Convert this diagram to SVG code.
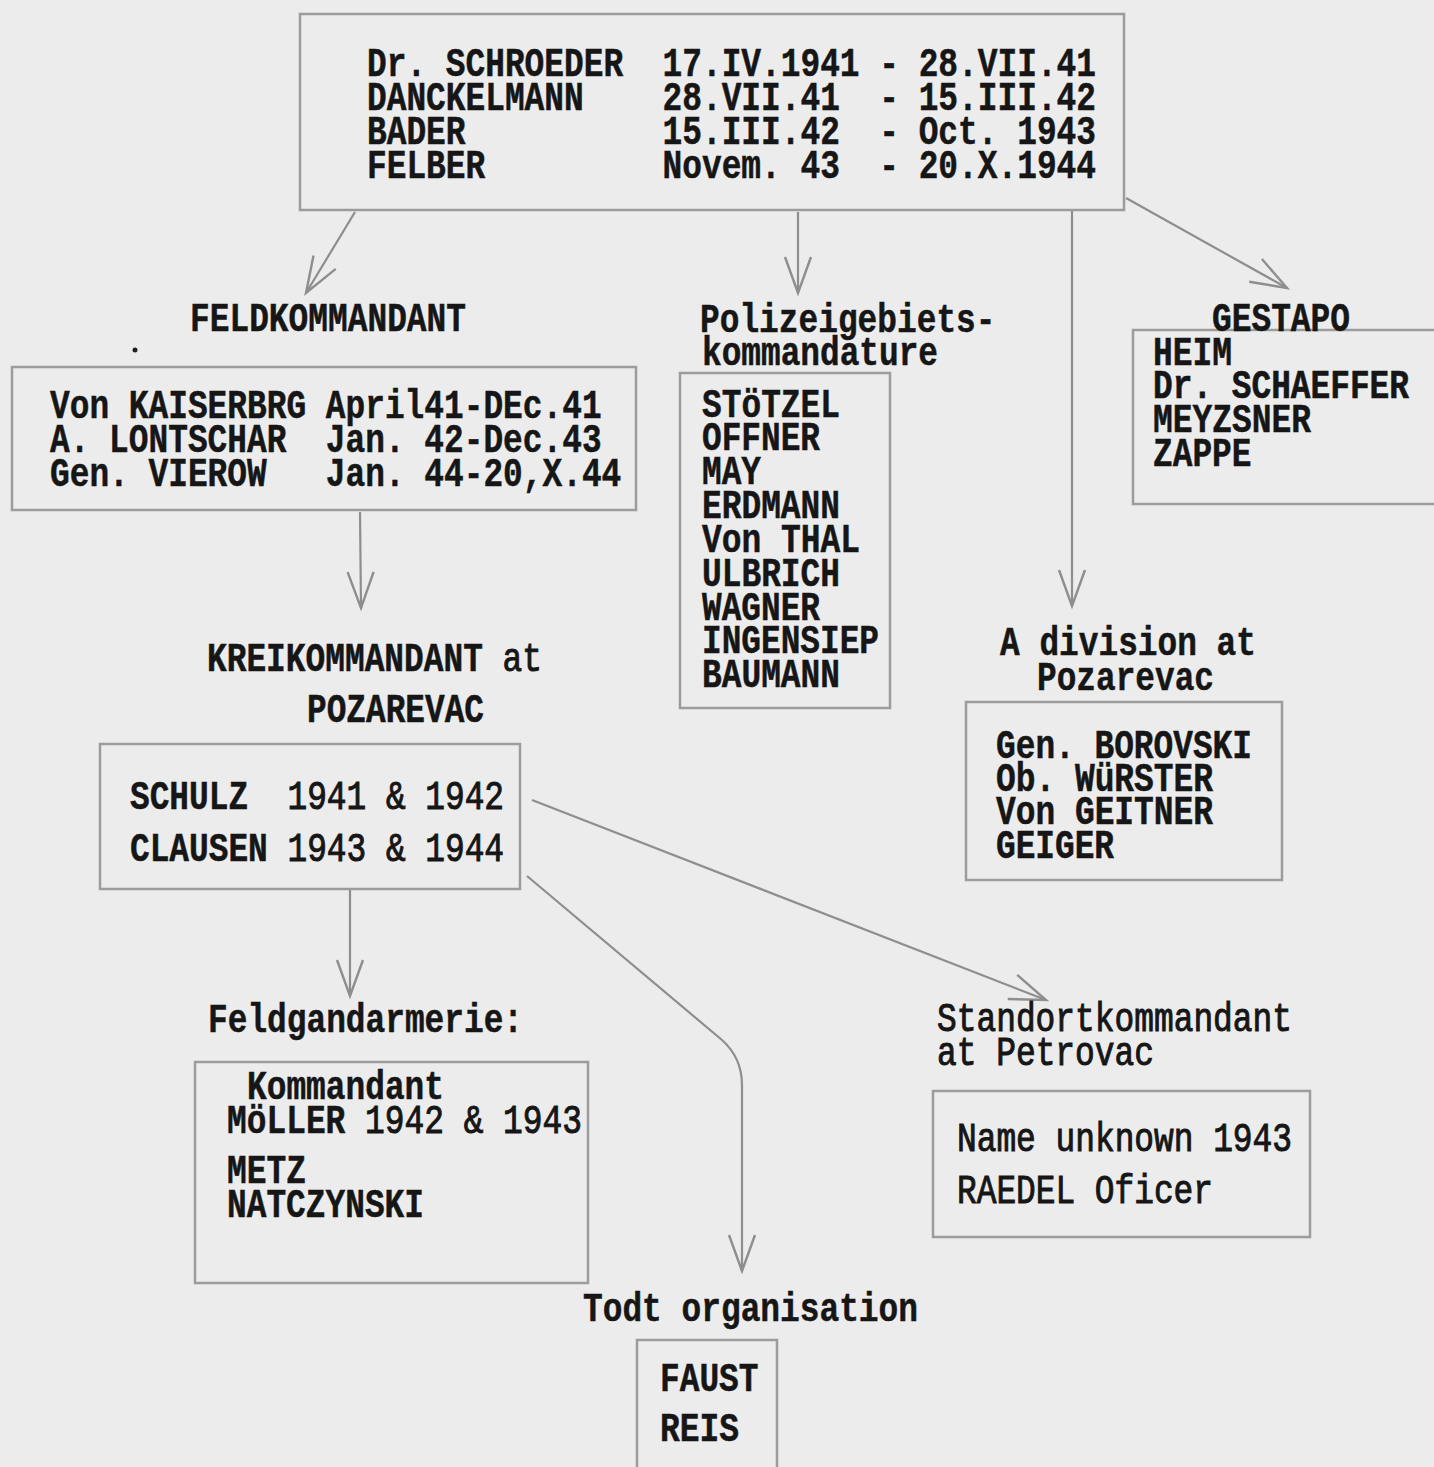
<svg xmlns="http://www.w3.org/2000/svg" width="1434" height="1467" viewBox="0 0 1434 1467" xml:space="preserve">
<style>
text{font-family:"Liberation Mono","DejaVu Sans Mono",monospace;font-size:40px;fill:#161616;font-weight:bold;white-space:pre;stroke:#161616;stroke-width:0.5}
.r{font-weight:normal;stroke-width:1}
.box{fill:none;stroke:#9c9c9c;stroke-width:2.5}
.con{fill:none;stroke:#8e8e8e;stroke-width:2.2}
</style>
<defs>
<marker id="v" markerUnits="userSpaceOnUse" viewBox="-42 -18 46 36" markerWidth="46" markerHeight="36" refX="0" refY="0" orient="auto">
<path d="M-36,-13 L0,0 L-36,13" fill="none" stroke="#8e8e8e" stroke-width="2.4"/>
</marker>
</defs>
<rect width="1434" height="1467" fill="#ececec"/>

<g id="connectors">
<path class="con" d="M355,212 L306,293" marker-end="url(#v)"/>
<path class="con" d="M798,212 L798,293" marker-end="url(#v)"/>
<path class="con" d="M1072,210 L1072,606" marker-end="url(#v)"/>
<path class="con" d="M1126,198 L1287,288" marker-end="url(#v)"/>
<path class="con" d="M360,512 L361,608" marker-end="url(#v)"/>
<path class="con" d="M350,890 L350,996" marker-end="url(#v)"/>
<path class="con" d="M532,800 L1046,1000" marker-end="url(#v)"/>
<path class="con" d="M527,876 L722,1040 Q742,1058 742,1085 L742,1271" marker-end="url(#v)"/>
</g>

<g id="top">
<rect class="box" x="300" y="14" width="824" height="196"/>
<text x="367" y="76" textLength="729" lengthAdjust="spacingAndGlyphs">Dr. SCHROEDER  17.IV.1941 - 28.VII.41</text>
<text x="367" y="110" textLength="729" lengthAdjust="spacingAndGlyphs">DANCKELMANN    28.VII.41  - 15.III.42</text>
<text x="367" y="144" textLength="729" lengthAdjust="spacingAndGlyphs">BADER          15.III.42  - Oct. 1943</text>
<text x="367" y="178" textLength="729" lengthAdjust="spacingAndGlyphs">FELBER         Novem. 43  - 20.X.1944</text>
</g>

<g id="feldkommandant">
<text x="190" y="331" textLength="276" lengthAdjust="spacingAndGlyphs">FELDKOMMANDANT</text>
<circle cx="135" cy="350" r="2.5" fill="#222"/>
<rect class="box" x="12" y="367" width="624" height="143"/>
<text x="50" y="418" textLength="551.6" lengthAdjust="spacingAndGlyphs">Von KAISERBRG April41-DEc.41</text>
<text x="50" y="452" textLength="551.6" lengthAdjust="spacingAndGlyphs">A. LONTSCHAR  Jan. 42-Dec.43</text>
<text x="50" y="486" textLength="571.3" lengthAdjust="spacingAndGlyphs">Gen. VIEROW   Jan. 44-20,X.44</text>
</g>

<g id="polizei">
<text x="700" y="332" textLength="295.5" lengthAdjust="spacingAndGlyphs">Polizeigebiets-</text>
<text x="702" y="365" textLength="236" lengthAdjust="spacingAndGlyphs">kommandature</text>
<rect class="box" x="680" y="373" width="210" height="335"/>
<text x="702" y="417" textLength="138" lengthAdjust="spacingAndGlyphs">STöTZEL</text>
<text x="702" y="450" textLength="118" lengthAdjust="spacingAndGlyphs">OFFNER</text>
<text x="702" y="484" textLength="59" lengthAdjust="spacingAndGlyphs">MAY</text>
<text x="702" y="518" textLength="138" lengthAdjust="spacingAndGlyphs">ERDMANN</text>
<text x="702" y="552" textLength="158" lengthAdjust="spacingAndGlyphs">Von THAL</text>
<text x="702" y="586" textLength="138" lengthAdjust="spacingAndGlyphs">ULBRICH</text>
<text x="702" y="620" textLength="118" lengthAdjust="spacingAndGlyphs">WAGNER</text>
<text x="702" y="653" textLength="177" lengthAdjust="spacingAndGlyphs">INGENSIEP</text>
<text x="702" y="687" textLength="138" lengthAdjust="spacingAndGlyphs">BAUMANN</text>
</g>

<g id="gestapo">
<path class="box" d="M1436,330 H1133 V504 H1436"/>
<text x="1212" y="331" textLength="138" lengthAdjust="spacingAndGlyphs">GESTAPO</text>
<text x="1153" y="365" textLength="79" lengthAdjust="spacingAndGlyphs">HEIM</text>
<text x="1153" y="0" transform="translate(0,398) scale(1,1.21)" style="font-size:33px" textLength="256" lengthAdjust="spacingAndGlyphs">Dr. SCHAEFFER</text>
<text x="1153" y="432" textLength="158" lengthAdjust="spacingAndGlyphs">MEYZSNER</text>
<text x="1153" y="466" textLength="98.5" lengthAdjust="spacingAndGlyphs">ZAPPE</text>
</g>

<g id="kreiskommandant">
<text x="207" y="671" textLength="335" lengthAdjust="spacingAndGlyphs">KREIKOMMANDANT <tspan class="r">at</tspan></text>
<text x="307" y="722" textLength="177" lengthAdjust="spacingAndGlyphs">POZAREVAC</text>
<rect class="box" x="100" y="744" width="420" height="145"/>
<text x="130" y="809" textLength="374" lengthAdjust="spacingAndGlyphs">SCHULZ  <tspan class="r">1941 &amp; 1942</tspan></text>
<text x="130" y="861" textLength="374" lengthAdjust="spacingAndGlyphs">CLAUSEN <tspan class="r">1943 &amp; 1944</tspan></text>
</g>

<g id="division">
<text x="1000" y="655" textLength="256" lengthAdjust="spacingAndGlyphs">A division at</text>
<text x="1037" y="690" textLength="177" lengthAdjust="spacingAndGlyphs">Pozarevac</text>
<rect class="box" x="966" y="702" width="316" height="178"/>
<text x="996" y="758" textLength="256" lengthAdjust="spacingAndGlyphs">Gen. BOROVSKI</text>
<text x="996" y="791" textLength="217" lengthAdjust="spacingAndGlyphs">Ob. WüRSTER</text>
<text x="996" y="824" textLength="217" lengthAdjust="spacingAndGlyphs">Von GEITNER</text>
<text x="996" y="858" textLength="118" lengthAdjust="spacingAndGlyphs">GEIGER</text>
</g>

<g id="feldgendarmerie">
<text x="208" y="1032" textLength="315" lengthAdjust="spacingAndGlyphs">Feldgandarmerie:</text>
<rect class="box" x="195" y="1062" width="393" height="221"/>
<text x="247" y="1099" textLength="197" lengthAdjust="spacingAndGlyphs">Kommandant</text>
<text x="227" y="1133" textLength="355" lengthAdjust="spacingAndGlyphs">MöLLER <tspan class="r">1942 &amp; 1943</tspan></text>
<text x="227" y="1183" textLength="79" lengthAdjust="spacingAndGlyphs">METZ</text>
<text x="227" y="1217" textLength="197" lengthAdjust="spacingAndGlyphs">NATCZYNSKI</text>
</g>

<g id="standort">
<text class="r" x="937" y="1031" textLength="355" lengthAdjust="spacingAndGlyphs">Standortkommandant</text>
<text class="r" x="937" y="1065" textLength="217" lengthAdjust="spacingAndGlyphs">at Petrovac</text>
<rect class="box" x="933" y="1091" width="377" height="146"/>
<text class="r" x="957" y="1151" textLength="335" lengthAdjust="spacingAndGlyphs">Name unknown 1943</text>
<text class="r" x="957" y="1203" textLength="256" lengthAdjust="spacingAndGlyphs">RAEDEL Oficer</text>
</g>

<g id="todt">
<text x="583" y="1321" textLength="335" lengthAdjust="spacingAndGlyphs">Todt organisation</text>
<rect class="box" x="637" y="1340" width="140" height="140"/>
<text x="660" y="1391" textLength="98.5" lengthAdjust="spacingAndGlyphs">FAUST</text>
<text x="660" y="1441" textLength="79" lengthAdjust="spacingAndGlyphs">REIS</text>
</g>
</svg>
